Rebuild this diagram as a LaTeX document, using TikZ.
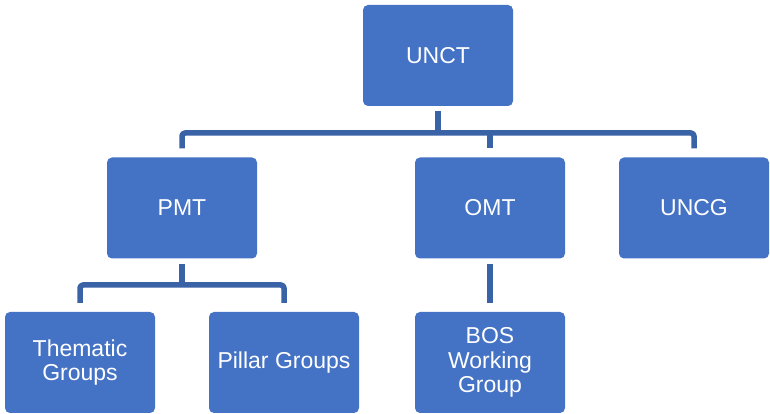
\documentclass[tikz,border=0pt]{standalone}
\usepackage{fontspec}
\setmainfont{Liberation Sans}
\usetikzlibrary{calc}
\definecolor{boxblue}{HTML}{4472C4}
\definecolor{lineblue}{HTML}{3A62A7}

\begin{document}
\begin{tikzpicture}[line cap=butt,line join=round,x=1pt,y=1pt,
		box/.style={draw=none,fill=boxblue,rounded corners=5pt,minimum width=150pt,minimum height=101pt,inner sep=0pt,text=white,align=center,font=\fontsize{23}{24.5}\selectfont},
		conn/.style={draw=lineblue,line width=5.5pt,rounded corners=3pt}]
		\useasboundingbox (0,0) rectangle (770,414);
		\node[box] (unct) at (438,358.5) {UNCT};
		\node[box] (pmt) at (182,206) {PMT};
		\node[box] (omt) at (490,206) {OMT};
		\node[box] (uncg) at (694,206) {UNCG};
		\node[box] (thematic) at (80,51.5) {Thematic\\Groups};
		\node[box] (pillar) at (284,51.5) {Pillar Groups};
		\node[box] (bos) at (490,51.5) {BOS\\Working\\Group};
		\coordinate (bar1) at (0,281);
		\coordinate (bar2) at (0,129);
		\draw[conn] ([yshift=-5]unct.south) -- (unct.south |- bar1);
		\draw[conn] ([yshift=9]pmt.north) |- (uncg.north |- bar1) -- ([yshift=9]uncg.north);
		\draw[conn] ([yshift=9]omt.north) -- (omt.north |- bar1);
		\draw[conn] ([yshift=-5]pmt.south) -- (pmt.south |- bar2);
		\draw[conn] ([yshift=9]thematic.north) |- (pillar.north |- bar2) -- ([yshift=9]pillar.north);
		\draw[conn] ([yshift=-5]omt.south) -- ([yshift=9]bos.north);
	\end{tikzpicture}
\end{document}
